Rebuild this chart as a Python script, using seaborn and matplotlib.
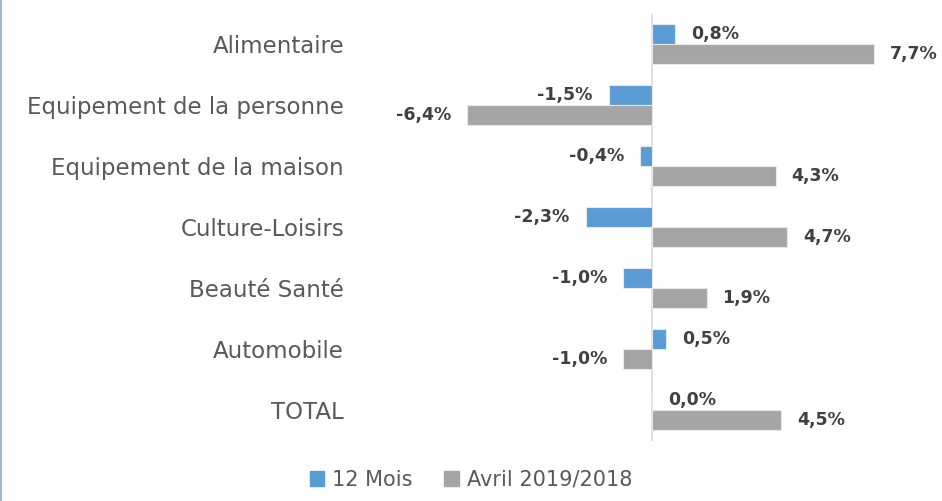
import matplotlib
matplotlib.use("Agg")
import matplotlib.pyplot as plt
from matplotlib.lines import Line2D
import pandas as pd
import seaborn as sns

# données
categories = ["Alimentaire", "Equipement de la personne", "Equipement de la maison",
              "Culture-Loisirs", "Beauté Santé", "Automobile", "TOTAL"]
series_names = ["12 Mois", "Avril 2019/2018"]
vals_12mois = [0.8, -1.5, -0.4, -2.3, -1.0, 0.5, 0.0]
vals_avril = [7.7, -6.4, 4.3, 4.7, 1.9, -1.0, 4.5]
colors = ["#5B9BD5", "#A5A5A5"]

df = pd.DataFrame({
    "cat": categories * 2,
    "serie": [series_names[0]] * len(categories) + [series_names[1]] * len(categories),
    "val": vals_12mois + vals_avril,
})

sns.set_theme(style="white")
plt.rcParams["font.family"] = ["DejaVu Sans"]

fig = plt.figure(figsize=(9.42, 5.01), dpi=100)
ax = fig.add_axes([358 / 942, 1 - 440.5 / 501, 575 / 942, 427 / 501])

sns.barplot(data=df, y="cat", x="val", hue="serie", order=categories,
            hue_order=series_names, palette=colors, saturation=1, orient="h",
            width=0.66, edgecolor="#E8E8E8", linewidth=0.8, ax=ax, legend=False)

ax.set_xlim(-10.2, 9.76)
ax.set_ylim(6.5, -0.5)
ax.axvline(0, color="#D9D9D9", linewidth=1.2, zorder=0)
for s in ax.spines.values():
    s.set_visible(False)
ax.set_xticks([])
ax.set_xlabel("")
ax.set_ylabel("")
ax.tick_params(axis="y", length=0, pad=10, labelsize=16.5, labelcolor="#595959")

# étiquettes de valeurs
for cont in ax.containers:
    labels = [f"{v:.1f}".replace(".", ",") + "%" for v in cont.datavalues]
    ax.bar_label(cont, labels=labels, padding=11.5, fontsize=12.5, fontweight="bold",
                 color="#404040")

handles = [plt.Rectangle((0, 0), 1, 1, color=c) for c in colors]
fig.legend(handles, series_names, loc="lower center", bbox_to_anchor=(0.5, -0.015),
           ncol=2, frameon=False, fontsize=15, labelcolor="#595959",
           handlelength=0.7, handleheight=0.7, handletextpad=0.4, columnspacing=1.5)

fig.add_artist(Line2D([0.0015, 0.0015], [0, 1], color="#A6B8CF", linewidth=1.5,
                      transform=fig.transFigure))

fig.savefig("out.png", dpi=100)
